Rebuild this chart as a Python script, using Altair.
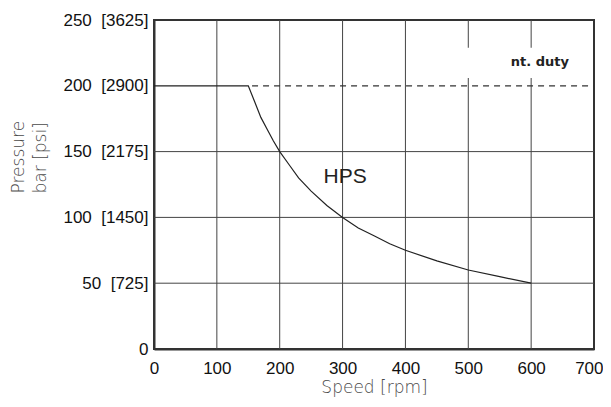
import altair as alt
import pandas as pd

# ---- data ----
speed = [0, 150, 160, 170, 180, 190, 200, 215, 230, 250, 275, 300, 325, 350, 375, 400, 450, 500, 550, 600]
pressure = [200, 200, 188, 176, 167, 158, 150, 140, 130, 120, 109, 100, 92, 86, 80, 75, 67, 60, 55, 50]

dash_speed = [156, 700]
dash_pressure = [200, 200]

x_ticks = [0, 100, 200, 300, 400, 500, 600, 700]
y_ticks = [0, 50, 100, 150, 200, 250]
psi = ["", "725", "1450", "2175", "2900", "3625"]

x_grid = [100, 200, 300, 400, 500, 600]
y_grid = [50, 100, 150]

mask_x = [485, 670]
mask_y = [206, 229]

labels_text = ["HPS", "nt. duty"]
labels_x = [304, 614]
labels_y = [131, 218]

# ---- frames ----
curve_df = pd.DataFrame({"speed": speed, "pressure": pressure})
dash_df = pd.DataFrame({"speed": dash_speed, "pressure": dash_pressure})
xg_df = pd.DataFrame({"speed": x_grid})
yg_df = pd.DataFrame({"pressure": y_grid})
mask_df = pd.DataFrame({"speed": [mask_x[0]], "x2": [mask_x[1]], "pressure": [mask_y[0]], "y2": [mask_y[1]]})
hps_df = pd.DataFrame({"t": [labels_text[0]], "speed": [labels_x[0]], "pressure": [labels_y[0]]})
duty_df = pd.DataFrame({"t": [labels_text[1]], "speed": [labels_x[1]], "pressure": [labels_y[1]]})

NB = "\u00a0"
parts = []
for v, p in zip(y_ticks, psi):
    lab = f"{v}{NB}{NB}[{p}]" if p else f"{v}"
    parts.append(f"datum.value == {v} ? '{lab}'")
y_label_expr = " : ".join(parts) + " : datum.label"

xscale = alt.Scale(domain=[0, 700], nice=False, zero=False)
yscale = alt.Scale(domain=[0, 250], nice=False, zero=False)

last_x = x_ticks[-1]
x_axis = alt.Axis(
    values=x_ticks, grid=False, ticks=False, domain=True,
    domainColor="#333", domainWidth=2,
    labelFont="Liberation Sans", labelFontSize=17, labelColor="#111",
    labelPadding=11, labelFlush=False,
    labelAlign={"condition": {"test": f"datum.value == {last_x}", "value": "right"}, "value": "center"},
    labelOffset={"condition": {"test": f"datum.value == {last_x}", "value": 9}, "value": 0},
    title="Speed [rpm]", titleFont="DejaVu Sans", titleFontSize=17,
    titleFontWeight=300, titleColor="#4a4a4a", titleY=30, titleBaseline="top",
)
y_axis = alt.Axis(
    values=y_ticks, grid=False, ticks=False, domain=True,
    domainColor="#333", domainWidth=2,
    labelFont="Liberation Sans", labelFontSize=17, labelColor="#111",
    labelPadding=6, labelExpr=y_label_expr, labelFlush=False,
    title=["Pressure", "bar [psi]"], titleFont="DejaVu Sans", titleFontSize=17,
    titleFontWeight=300, titleColor="#4a4a4a", titleAngle=-90, titleAlign="left",
    titleBaseline="top", titleX=-144, titleY=173, titleLineHeight=22,
)

X = alt.X("speed:Q", scale=xscale, axis=x_axis)
Y = alt.Y("pressure:Q", scale=yscale, axis=y_axis)

xgrid = alt.Chart(xg_df).mark_rule(color="#444", strokeWidth=1).encode(x=X)
ygrid = alt.Chart(yg_df).mark_rule(color="#444", strokeWidth=1).encode(y=Y)
mask = alt.Chart(mask_df).mark_rect(color="white").encode(x=X, x2="x2", y=Y, y2="y2")
curve = alt.Chart(curve_df).mark_line(color="#222", strokeWidth=1.2).encode(x=X, y=Y)
dashed = alt.Chart(dash_df).mark_line(color="#333", strokeWidth=1.2, strokeDash=[6, 5]).encode(x=X, y=Y)
hps = alt.Chart(hps_df).mark_text(font="Liberation Sans", fontSize=21, color="#222").encode(
    x=X, y=Y, text="t:N"
)
duty = alt.Chart(duty_df).mark_text(font="DejaVu Sans", fontSize=13, fontWeight="bold", color="#222").encode(
    x=X, y=Y, text="t:N"
)

chart = alt.layer(xgrid, ygrid, mask, curve, dashed, hps, duty).properties(
    width=440, height=329,
    autosize=alt.AutoSizeParams(type="none"),
    padding={"left": 146, "top": 12, "right": 9, "bottom": 50},
    background="white",
).configure_view(stroke="#333", strokeWidth=2)

chart.save("out.html", embed_options={"renderer": "svg", "actions": False})
